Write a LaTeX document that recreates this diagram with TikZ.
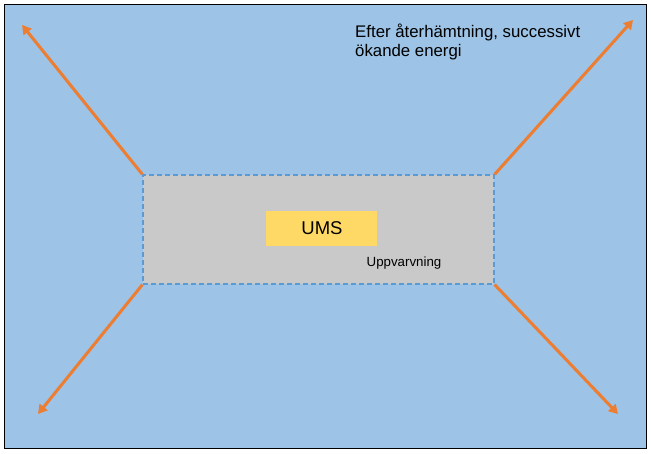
\documentclass[tikz,border=0pt]{standalone}
\usepackage{fontspec}
\setmainfont{Liberation Sans}
\definecolor{bgblue}{HTML}{9DC3E6}
\definecolor{dashblue}{HTML}{5B9BD5}
\definecolor{boxgray}{HTML}{C9C9C9}
\definecolor{umsyellow}{HTML}{FFD966}
\definecolor{arroworange}{HTML}{ED7D31}
\usetikzlibrary{arrows.meta}
\begin{document}
\begin{tikzpicture}[x=1pt,y=-1pt,
  arr/.style={draw=arroworange,line width=3pt,-{Triangle[length=9pt,width=10pt]}},
  txt/.style={font=\fontsize{16.8}{18}\selectfont,anchor=base west,inner sep=0pt}]
\useasboundingbox (0,0) rectangle (651,453);
\fill[white] (0,0) rectangle (651,453);
\draw[fill=bgblue,draw=black,line width=1pt] (4,4) rectangle (646,448);
\node[draw=dashblue,dashed,dash pattern=on 5pt off 3pt,line width=1.2pt,fill=boxgray,minimum width=351pt,minimum height=109pt,inner sep=0pt] (main) at (318.5,229.5) {};
\node[fill=umsyellow,minimum width=111pt,minimum height=35pt,inner sep=0pt] (ums) at (321.5,228.5) {};
\node[font=\fontsize{18.5}{20}\selectfont,inner sep=0pt,anchor=base] (umstext) at (322,234.7) {UMS};
\node[font=\fontsize{13.3}{15}\selectfont,inner sep=0pt,anchor=base] (upp) at (404,266.5) {Uppvarvning};
\node[txt] (top1) at (355,37.3) {Efter återhämtning, successivt};
\node[txt] (top2) at (355,56.7) {ökande energi};
\coordinate (tl) at (22,25);
\coordinate (tr) at (633,20);
\coordinate (bl) at (38,414);
\coordinate (br) at (618,414);
\draw[arr] (main.north west) -- (tl);
\draw[arr] (main.north east) -- (tr);
\draw[arr] (main.south west) -- (bl);
\draw[arr] (main.south east) -- (br);
\end{tikzpicture}
\end{document}
